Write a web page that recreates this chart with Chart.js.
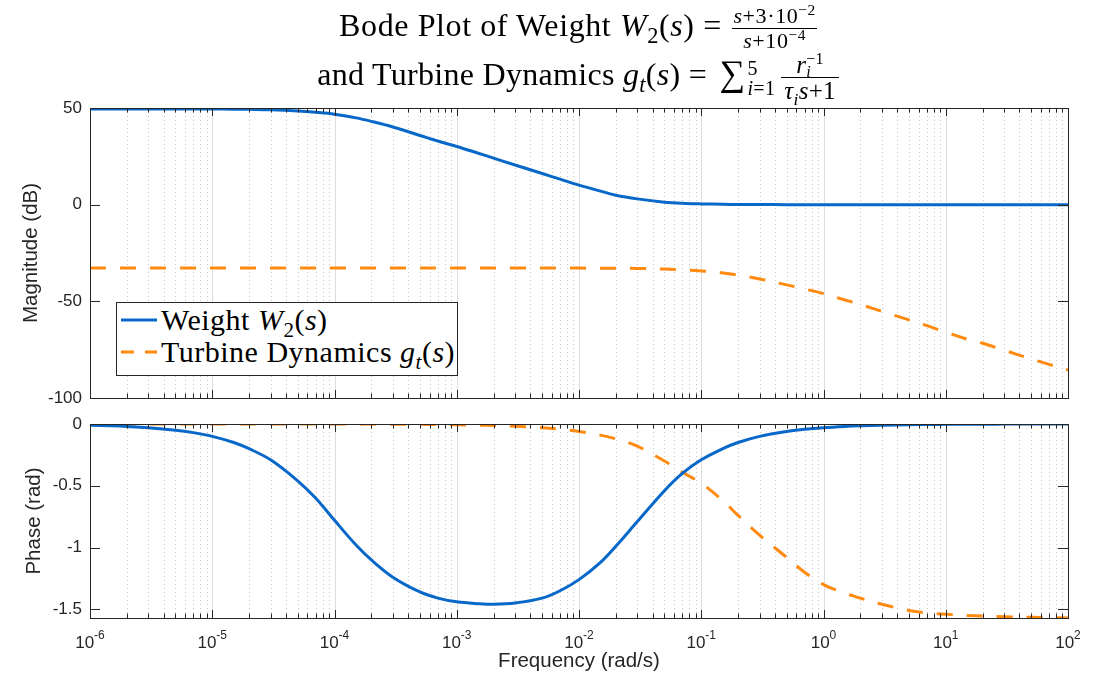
<!DOCTYPE html>
<html>
<head>
<meta charset="utf-8">
<script src="https://cdn.jsdelivr.net/npm/chart.js@4.4.1/dist/chart.umd.min.js"></script>
<style>
  body { margin: 0; background: #fff; }
  #page { position: relative; width: 1104px; height: 679px; overflow: hidden; }
  canvas { position: absolute; left: 0; }
  .tex { font-family: "Liberation Serif", "DejaVu Serif", serif; color: #000; }
  .title { position: absolute; left: 90px; width: 978px; text-align: center; font-size: 32px; line-height: 36px; letter-spacing: 0.6px; white-space: nowrap; }
  .tex sub, .tex sup { font-size: 0.7em; line-height: 0; }
  .frac { display: inline-block; vertical-align: middle; text-align: center; font-size: 22px; margin: 0 2px; }
  .frac > span { display: block; height: 24px; line-height: 24px; padding: 0 1px; }
  .frac > .den { border-top: 1px solid #000; }
  .title.second { letter-spacing: 0.3px; }
  .title.second .frac { font-size: 25px; margin-left: 6px; }
  .title.second .frac > span { height: 25px; line-height: 25px; padding: 0 3px; }
  .sum { font-size: 36px; margin-left: 4px; }
  .lims { display: inline-block; vertical-align: middle; font-size: 20px; line-height: 20px; text-align: left; margin-left: 2px; }
  .lims > span { display: block; }
  .ss { display: inline-block; vertical-align: -4px; font-size: 16px; line-height: 13px; text-align: left; }
  .ss > span { display: block; }
  #legend { position: absolute; left: 116px; top: 302px; width: 340px; height: 72px; border: 1px solid #262626; background: #fff; z-index: 5; }
  #legend .row { position: absolute; left: 4px; height: 32px; display: flex; align-items: center; font-size: 30px; letter-spacing: 0.5px; white-space: nowrap; }
  #legend svg { margin-right: 4px; }
</style>
</head>
<body>
<div id="page">
  <canvas id="magChart" width="1104" height="420" style="top:0"></canvas>
  <canvas id="phaseChart" width="1104" height="279" style="top:400px"></canvas>

  <div class="title tex" style="top:4px">Bode Plot of Weight <i>W</i><sub>2</sub>(<i>s</i>) = <span class="frac"><span><i>s</i>+3·10<sup>−2</sup></span><span class="den"><i>s</i>+10<sup>−4</sup></span></span></div>
  <div class="title second tex" style="top:52px">and Turbine Dynamics <i>g</i><sub><i>t</i></sub>(<i>s</i>) = <span class="sum">∑</span><span class="lims"><span>5</span><span><i>i</i>=1</span></span><span class="frac"><span><i>r</i><span class="ss"><span>−1</span><span><i>i</i></span></span></span><span class="den"><i>τ<sub>i</sub>s</i>+1</span></span></div>

  <div id="legend" class="tex">
    <div class="row" style="top:1px">
      <svg width="36" height="6"><line x1="0" y1="3" x2="36" y2="3" stroke="#0868c9" stroke-width="3"/></svg>
      <span>Weight <i>W</i><sub>2</sub>(<i>s</i>)</span>
    </div>
    <div class="row" style="top:33px">
      <svg width="36" height="6"><line x1="0" y1="3" x2="36" y2="3" stroke="#ff8a10" stroke-width="3" stroke-dasharray="13 11"/></svg>
      <span>Turbine Dynamics <i>g</i><sub><i>t</i></sub>(<i>s</i>)</span>
    </div>
  </div>
</div>

<script>
// frequencies (rad/s) and the values
const freq = [
  1e-6, 1.5e-6, 2e-6, 3e-6, 5e-6, 7e-6,
  1e-5, 1.5e-5, 2e-5, 3e-5, 5e-5, 7e-5,
  1e-4, 1.5e-4, 2e-4, 3e-4, 5e-4, 7e-4,
  1e-3, 1.5e-3, 2e-3, 3e-3, 5e-3, 7e-3,
  1e-2, 1.5e-2, 2e-2, 3e-2, 5e-2, 7e-2,
  1e-1, 1.5e-1, 2e-1, 3e-1, 5e-1, 7e-1,
  1, 1.5, 2, 3, 5, 7,
  10, 15, 20, 30, 50, 70,
  100];

const magW2 = [
  49.5, 49.5, 49.5, 49.5, 49.5, 49.5,
  49.5, 49.4, 49.3, 49.1, 48.5, 47.8,
  46.8, 44.9, 43.1, 40.2, 35.8, 32.9,
  30.1, 26.6, 24.1, 20.5, 16.1, 13.2,
  10.1, 7.0, 4.9, 3.0, 1.3, 0.7,
  0.4, 0.2, 0.1, 0.05, 0, 0,
  0, 0, 0, 0, 0, 0,
  0, 0, 0, 0, 0, 0,
  0];

const magGt = [
  -32.8, -32.8, -32.8, -32.8, -32.8, -32.8,
  -32.8, -32.8, -32.8, -32.8, -32.8, -32.8,
  -32.8, -32.8, -32.8, -32.8, -32.8, -32.8,
  -32.8, -32.8, -32.8, -32.8, -32.8, -32.8,
  -32.8, -32.9, -32.9, -33.0, -33.3, -33.7,
  -34.3, -35.3, -36.4, -38.4, -41.5, -43.6,
  -46.0, -49.3, -51.6, -55.2, -59.6, -62.6,
  -66.0, -69.6, -71.7, -75.3, -79.8, -82.6,
  -85.5];

const phaseW2 = [
  -0.01, -0.015, -0.02, -0.03, -0.05, -0.07,
  -0.10, -0.15, -0.20, -0.29, -0.46, -0.60,
  -0.78, -0.98, -1.10, -1.24, -1.36, -1.41,
  -1.44, -1.455, -1.46, -1.45, -1.41, -1.35,
  -1.26, -1.12, -0.99, -0.79, -0.54, -0.40,
  -0.29, -0.20, -0.15, -0.10, -0.06, -0.043,
  -0.03, -0.02, -0.015, -0.01, -0.006, -0.004,
  -0.003, -0.002, -0.0015, -0.001, -0.0006, -0.0004,
  -0.0003];

const phaseGt = [
  0, 0, 0, 0, 0, 0,
  0, 0, 0, 0, 0, 0,
  0, -0.001, -0.001, -0.002, -0.003, -0.004,
  -0.006, -0.009, -0.012, -0.018, -0.03, -0.042,
  -0.06, -0.09, -0.12, -0.18, -0.30, -0.39,
  -0.48, -0.62, -0.74, -0.90, -1.08, -1.20,
  -1.30, -1.37, -1.41, -1.46, -1.51, -1.53,
  -1.54, -1.55, -1.555, -1.56, -1.565, -1.568,
  -1.57];

const xDecades = [-6, -5, -4, -3, -2, -1, 0, 1, 2];
const magTicks = [-100, -50, 0, 50];
const phaseTicks = [-1.5, -1, -0.5, 0];

const blue = '#0868c9';
const orange = '#ff8a10';
const axisColor = '#262626';
const sans = '"Liberation Sans", Arial, sans-serif';

function pts(ys) {
  return freq.map((f, i) => ({ x: f, y: ys[i] }));
}

// decade ticks are major, 2..9 are minor
function xTicks() {
  const t = [];
  xDecades.forEach((d, i) => {
    t.push({ value: Math.pow(10, d), major: true, exp: d });
    if (i < xDecades.length - 1) {
      for (let m = 2; m <= 9; m++) t.push({ value: m * Math.pow(10, d), major: false });
    }
  });
  return t;
}

// MATLAB-like box: vertical grid, inward ticks, superscript decade labels
const axesBox = {
  id: 'axesBox',
  beforeDatasetsDraw(chart) {
    const { ctx, chartArea: a, scales: { x } } = chart;
    ctx.save();
    ctx.lineWidth = 1;
    x.ticks.forEach(t => {
      const px = Math.round(x.getPixelForValue(t.value)) + 0.5;
      if (t.major) { ctx.strokeStyle = '#dddddd'; ctx.setLineDash([]); }
      else { ctx.strokeStyle = '#c4c4c4'; ctx.setLineDash([1, 3]); }
      ctx.beginPath();
      ctx.moveTo(px, a.top);
      ctx.lineTo(px, a.bottom);
      ctx.stroke();
    });
    ctx.restore();
  },
  afterDatasetsDraw(chart, args, opts) {
    const { ctx, chartArea: a, scales: { x, y } } = chart;
    ctx.save();
    ctx.strokeStyle = axisColor;
    ctx.lineWidth = 1;
    ctx.setLineDash([]);
    ctx.strokeRect(Math.round(a.left) + 0.5, Math.round(a.top) + 0.5,
      Math.round(a.right - a.left), Math.round(a.bottom - a.top));
    ctx.beginPath();
    x.ticks.forEach(t => {
      const px = Math.round(x.getPixelForValue(t.value)) + 0.5;
      const len = t.major ? 8 : 4.5;
      ctx.moveTo(px, a.bottom); ctx.lineTo(px, a.bottom - len);
      ctx.moveTo(px, a.top); ctx.lineTo(px, a.top + len);
    });
    y.ticks.forEach(t => {
      const py = Math.round(y.getPixelForValue(t.value)) + 0.5;
      ctx.moveTo(a.left, py); ctx.lineTo(a.left + 10, py);
      ctx.moveTo(a.right, py); ctx.lineTo(a.right - 10, py);
    });
    ctx.stroke();

    if (opts.labels) {
      ctx.fillStyle = axisColor;
      ctx.textBaseline = 'alphabetic';
      ctx.textAlign = 'left';
      x.ticks.filter(t => t.major).forEach(t => {
        const px = x.getPixelForValue(t.value);
        const base = '10', sup = String(t.exp);
        ctx.font = '17px ' + sans;
        const w1 = ctx.measureText(base).width;
        ctx.font = '12px ' + sans;
        const w2 = ctx.measureText(sup).width;
        const left = px - (w1 + w2) / 2;
        ctx.font = '17px ' + sans;
        ctx.fillText(base, left, a.bottom + 30);
        ctx.font = '12px ' + sans;
        ctx.fillText(sup, left + w1, a.bottom + 21);
      });
    }
    ctx.restore();
  }
};

function xScale(height, title) {
  return {
    type: 'logarithmic',
    min: 1e-6,
    max: 1e2,
    afterBuildTicks: s => { s.ticks = xTicks(); },
    afterFit: s => { s.height = height; },
    grid: { display: false, drawTicks: false },
    border: { display: false },
    ticks: { display: false },
    title: title
  };
}

function yScale(min, max, ticks, label, titlePad) {
  return {
    type: 'linear',
    min: min,
    max: max,
    afterBuildTicks: s => { s.ticks = ticks.map(v => ({ value: v })); },
    afterFit: s => { s.width = 90; },
    grid: { display: false, drawTicks: false },
    border: { display: false },
    ticks: { font: { size: 17, family: sans }, color: axisColor, padding: 8, callback: v => String(v) },
    title: { display: true, text: label, font: { size: 20.5, family: sans }, color: axisColor, padding: { top: titlePad, bottom: 0 } }
  };
}

function line(data, color, dashed) {
  return {
    data: pts(data),
    borderColor: color,
    borderWidth: 3,
    borderDash: dashed ? [16, 14] : [],
    pointRadius: 0,
    tension: 0.35,
    fill: false
  };
}

const common = {
  responsive: false,
  animation: false,
  devicePixelRatio: 1,
  plugins: { legend: { display: false }, tooltip: { enabled: false } }
};

new Chart(document.getElementById('magChart'), {
  type: 'line',
  data: { datasets: [line(magW2, blue, false), line(magGt, orange, true)] },
  options: Object.assign({}, common, {
    layout: { padding: { top: 108, right: 36, bottom: 22, left: 0 } },
    scales: {
      x: xScale(0, { display: false }),
      y: yScale(-100, 50, magTicks, 'Magnitude (dB)', 19)
    },
    plugins: Object.assign({}, common.plugins, { axesBox: { labels: false } })
  }),
  plugins: [axesBox]
});

new Chart(document.getElementById('phaseChart'), {
  type: 'line',
  data: { datasets: [line(phaseW2, blue, false), line(phaseGt, orange, true)] },
  options: Object.assign({}, common, {
    layout: { padding: { top: 24, right: 36, bottom: 0, left: 0 } },
    scales: {
      x: xScale(61, { display: true, text: 'Frequency (rad/s)', font: { size: 20.5, family: sans }, color: axisColor, padding: { top: 0, bottom: 5 } }),
      y: yScale(-1.5708, 0, phaseTicks, 'Phase (rad)', 22)
    },
    plugins: Object.assign({}, common.plugins, { axesBox: { labels: true } })
  }),
  plugins: [axesBox]
});
</script>
</body>
</html>
